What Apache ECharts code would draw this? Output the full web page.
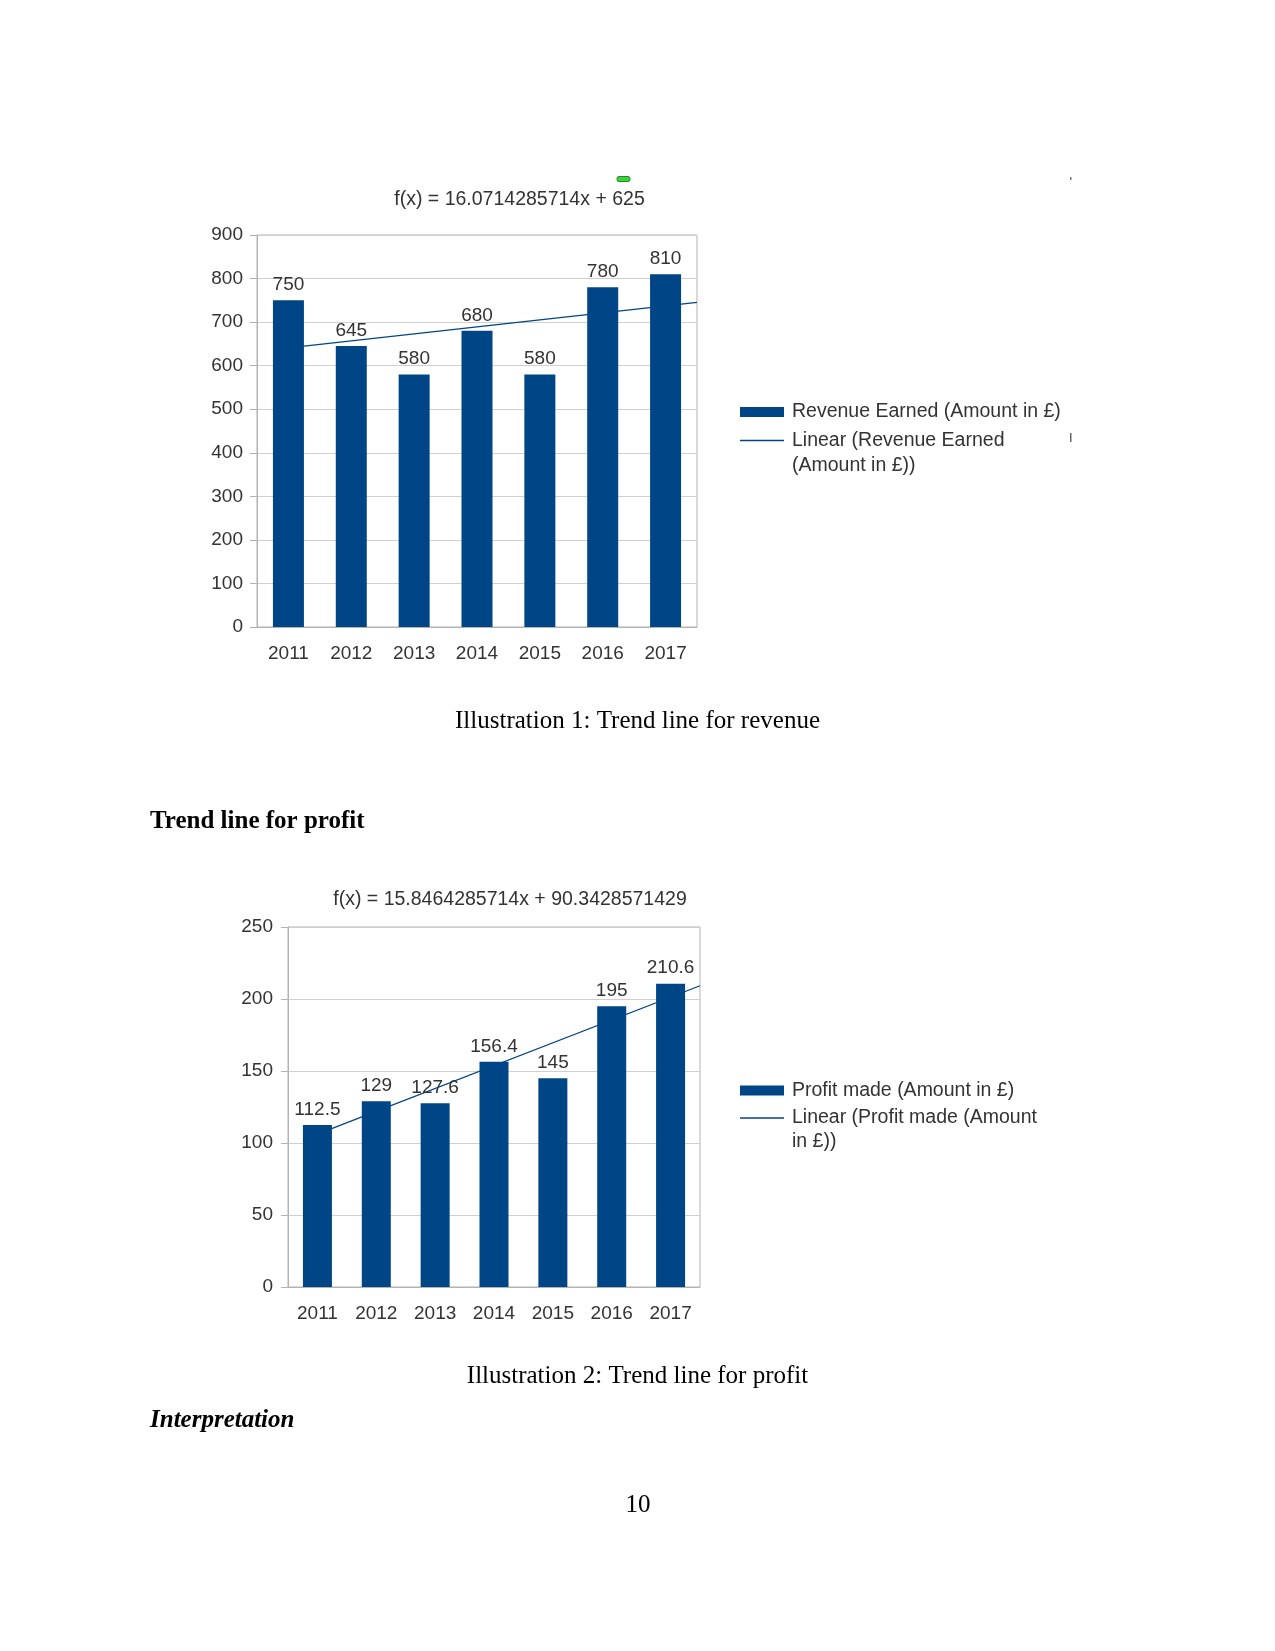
<!DOCTYPE html>
<html>
<head>
<meta charset="utf-8">
<script src="https://cdn.jsdelivr.net/npm/echarts@6/dist/echarts.min.js"></script>
<style>
  html, body { margin: 0; padding: 0; background: #fff; }
  #page { width: 1275px; height: 1651px; }
</style>
</head>
<body>
<div id="page"></div>
<script>
// ---- data ----
const years = ['2011', '2012', '2013', '2014', '2015', '2016', '2017'];
const revenue = [750, 645, 580, 680, 580, 780, 810];
const profit = [112.5, 129, 127.6, 156.4, 145, 195, 210.6];
const revenueTicks = [0, 100, 200, 300, 400, 500, 600, 700, 800, 900];
const profitTicks = [0, 50, 100, 150, 200, 250];
const revenueTrendCoef = [16.0714285714, 625];       // slope, intercept (x = 1..7)
const profitTrendCoef = [15.8464285714, 90.3428571429];
const revenueEquation = 'f(x) = 16.0714285714x + 625';
const profitEquation = 'f(x) = 15.8464285714x + 90.3428571429';
const revenueName = 'Revenue Earned (Amount in £)';
const revenueTrendName = 'Linear (Revenue Earned (Amount in £))';
const profitName = 'Profit made (Amount in £)';
const profitTrendName = 'Linear (Profit made (Amount in £))';

// ---- styling ----
const BLUE = '#004586';
const TXT = '#333333';
const SANS = 'Liberation Sans, Arial, sans-serif';
const SERIF = 'Liberation Serif, Times New Roman, serif';
const AXIS = '#b3b3b3';
const GRIDC = '#d0d0d0';
const FS = 19;

function trendPoints(coef) {
  // trend line from the first category centre to the plot's right edge
  return [1, years.length + 0.5].map(x => [x, coef[0] * x + coef[1]]);
}

function catAxis(gridIndex) {
  return {
    type: 'category', gridIndex, data: years,
    axisLine: { lineStyle: { color: AXIS } },
    axisTick: { length: 8, lineStyle: { color: AXIS } },
    axisLabel: { color: TXT, fontSize: FS, fontFamily: SANS, margin: 17 }
  };
}
function valXAxis(gridIndex) {
  return { type: 'value', gridIndex, min: 0.5, max: years.length + 0.5, show: false };
}
function yAxis(gridIndex, ticks, margin) {
  return {
    type: 'value', gridIndex,
    min: ticks[0], max: ticks[ticks.length - 1], interval: ticks[1] - ticks[0],
    axisLine: { show: true, lineStyle: { color: AXIS } },
    axisTick: { show: true, length: 7, lineStyle: { color: AXIS } },
    splitLine: { lineStyle: { color: GRIDC } },
    axisLabel: { color: TXT, fontSize: FS, fontFamily: SANS, margin }
  };
}
function barSeries(name, data, idx, width) {
  return {
    type: 'bar', name, data, xAxisIndex: idx * 2, yAxisIndex: idx,
    barWidth: width, z: 3,
    itemStyle: { color: BLUE },
    label: { show: true, position: 'top', distance: 6, color: TXT, fontSize: FS, fontFamily: SANS }
  };
}
function lineSeries(name, coef, idx) {
  return {
    type: 'line', name, data: trendPoints(coef), xAxisIndex: idx * 2 + 1, yAxisIndex: idx,
    symbol: 'none', z: 1, silent: true,
    lineStyle: { color: BLUE, width: 1.3 }, itemStyle: { color: BLUE }
  };
}
// single-item legends; a two-line label gets a leading blank line so the
// icon lines up with the first text line
function legendItem(name, left, top, label, lh, isLine) {
  return {
    data: [{ name, icon: 'rect' }], orient: 'vertical', left, top, padding: 0,
    itemWidth: 44, itemHeight: isLine ? 1.5 : 10,
    formatter: () => label,
    textStyle: {
      color: TXT, fontSize: 19.5, fontFamily: SANS, lineHeight: lh,
      padding: [0, 0, 0, 3]
    }
  };
}
function txt(text, x, y, opts) {
  return {
    type: 'text', x, y, silent: true,
    style: Object.assign({ text, fill: '#000', fontSize: 25, fontFamily: SERIF,
      textAlign: 'center', textVerticalAlign: 'middle' }, opts || {})
  };
}

const chart = echarts.init(document.getElementById('page'), null, { renderer: 'canvas' });
chart.setOption({
  animation: false,
  backgroundColor: '#fff',
  grid: [
    { left: 257, top: 235, width: 440, height: 392, show: true, borderColor: AXIS, borderWidth: 1, containLabel: false },
    { left: 288, top: 927, width: 412, height: 360, show: true, borderColor: AXIS, borderWidth: 1, containLabel: false }
  ],
  xAxis: [catAxis(0), valXAxis(0), catAxis(1), valXAxis(1)],
  yAxis: [yAxis(0, revenueTicks, 14), yAxis(1, profitTicks, 15)],
  legend: [
    legendItem(revenueName, 740, 399.5, revenueName, 25, false),
    legendItem(revenueTrendName, 740, 403, '\nLinear (Revenue Earned\n(Amount in £))', 25, true),
    legendItem(profitName, 740, 1078.5, profitName, 24, false),
    legendItem(profitTrendName, 740, 1082, '\nLinear (Profit made (Amount\nin £))', 24, true)
  ],
  series: [
    lineSeries(revenueTrendName, revenueTrendCoef, 0),
    barSeries(revenueName, revenue, 0, 31),
    lineSeries(profitTrendName, profitTrendCoef, 1),
    barSeries(profitName, profit, 1, 29)
  ],
  graphic: [
    txt(revenueEquation, 519.5, 200, { fill: TXT, fontSize: 19.5, fontFamily: SANS }),
    txt(profitEquation, 510, 899.5, { fill: TXT, fontSize: 19.5, fontFamily: SANS }),
    txt('Illustration 1: Trend line for revenue', 637.5, 721),
    txt('Trend line for profit', 150, 822, { textAlign: 'left', fontWeight: 'bold' }),
    txt('Illustration 2: Trend line for profit', 637.5, 1376),
    txt('Interpretation', 150, 1421, { textAlign: 'left', fontWeight: 'bold', fontStyle: 'italic' }),
    txt('10', 638, 1505.5),
    { type: 'rect', silent: true, shape: { x: 617, y: 176.5, width: 13, height: 5, r: 2 },
      style: { fill: '#3fd13f', stroke: '#1f8a1f', lineWidth: 1 } },
    { type: 'rect', silent: true, shape: { x: 1070, y: 177, width: 1.5, height: 3 }, style: { fill: '#777' } },
    { type: 'rect', silent: true, shape: { x: 1070, y: 433, width: 1.5, height: 9 }, style: { fill: '#666' } }
  ]
});
</script>
</body>
</html>
